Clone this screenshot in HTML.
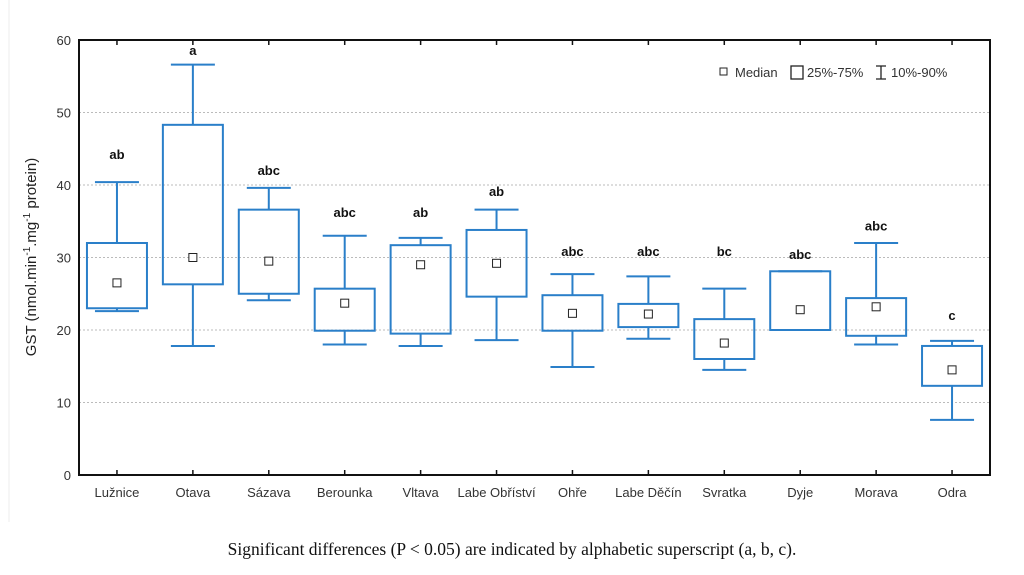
<!DOCTYPE html>
<html><head><meta charset="utf-8"><style>
body{margin:0;background:#fff;width:1024px;height:575px;overflow:hidden}
svg{display:block}
</style></head><body>
<svg id="c" width="1024" height="575" xmlns="http://www.w3.org/2000/svg">
<line x1="9" y1="0" x2="9" y2="522" stroke="#eee" stroke-width="1"/>
<g id="grid"></g>
<g id="axes"></g>
<g id="marks"></g>
<text x="36" y="257" transform="rotate(-90 36 257)" text-anchor="middle" font-family="Liberation Sans, sans-serif" font-size="15" fill="#222">GST (nmol.min<tspan dy="-6" font-size="10">-1</tspan><tspan dy="6">.mg</tspan><tspan dy="-6" font-size="10">-1</tspan><tspan dy="6"> protein)</tspan></text>
<g font-family="Liberation Sans, sans-serif" font-size="13" fill="#333">
<rect x="720" y="68" width="7" height="7" fill="none" stroke="#222"/>
<text x="735" y="77">Median</text>
<rect x="791" y="66" width="12" height="13" fill="none" stroke="#222" stroke-width="1.3"/>
<text x="807" y="77">25%-75%</text>
<path d="M876 66h10M881 66v13M876 79h10" stroke="#222" stroke-width="1.3" fill="none"/>
<text x="891" y="77">10%-90%</text>
</g>
<text x="512" y="555" text-anchor="middle" font-family="Liberation Serif, serif" font-size="17.5" fill="#111">Significant differences (P &lt; 0.05) are indicated by alphabetic superscript (a, b, c).</text>
</svg>
<script>
const categories=["Lužnice","Otava","Sázava","Berounka","Vltava","Labe Obříství","Ohře","Labe Děčín","Svratka","Dyje","Morava","Odra"];
const p90=[40.4,56.6,39.6,33,32.7,36.6,27.7,27.4,25.7,28.1,32,18.5];
const q75=[32,48.3,36.6,25.7,31.7,33.8,24.8,23.6,21.5,28.1,24.4,17.8];
const medians=[26.5,30,29.5,23.7,29,29.2,22.3,22.2,18.2,22.8,23.2,14.5];
const q25=[23,26.3,25,19.9,19.5,24.6,19.9,20.4,16,20,19.2,12.3];
const p10=[22.6,17.8,24.1,18,17.8,18.6,14.9,18.8,14.5,20,18,7.6];
const letters=["ab","a","abc","abc","ab","ab","abc","abc","bc","abc","abc","c"];
const letterLevel=[43.6,57.9,41.4,35.6,35.6,38.5,30.2,30.2,30.2,29.8,33.7,21.4];
const yTicks=[0,10,20,30,40,50,60];
const L=79,R=990,T=40,B=475,ymax=60;
const step=(R-L)/categories.length;
const X=i=>L+step*(i+0.5);
const Y=v=>B-(v/ymax)*(B-T);
const NS="http://www.w3.org/2000/svg";
function mk(parent,tag,attrs,txt){const e=document.createElementNS(NS,tag);for(const k in attrs)e.setAttribute(k,attrs[k]);if(txt!==undefined)e.textContent=txt;document.getElementById(parent).appendChild(e);return e;}
const F="Liberation Sans, sans-serif";
yTicks.forEach(v=>{
  if(v>0&&v<ymax){const g=mk("grid","line",{x1:L,x2:R,y1:Y(v),y2:Y(v),stroke:"#bbb","stroke-dasharray":"2,2","stroke-width":1});
  
  }
  const t=mk("axes","text",{x:L-8,y:Y(v)+5,"text-anchor":"end","font-family":F,"font-size":13,fill:"#333"},v);
  
  
});
const fr=mk("axes","rect",{x:L,y:T,width:R-L,height:B-T,fill:"none",stroke:"#111","stroke-width":2});


categories.forEach((c,i)=>{
  const x=X(i);
  const tk=mk("axes","path",{d:`M${x} ${B}v-5M${x} ${T}v5`,stroke:"#111","stroke-width":1.5});
  
  
  const t=mk("axes","text",{x:x,y:B+22,"text-anchor":"middle","font-family":F,"font-size":13,fill:"#333"},c);
  
  
  const col="#2a7fc9";
  const w=mk("marks","path",{d:`M${x-22} ${Y(p90[i])}h44M${x} ${Y(p90[i])}V${Y(q75[i])}M${x} ${Y(q25[i])}V${Y(p10[i])}M${x-22} ${Y(p10[i])}h44`,stroke:col,"stroke-width":2,fill:"none"});
  
  
  const b=mk("marks","rect",{x:x-30,y:Y(q75[i]),width:60,height:Y(q25[i])-Y(q75[i]),fill:"none",stroke:col,"stroke-width":2});
  
  
  const m=mk("marks","rect",{x:x-4,y:Y(medians[i])-4,width:8,height:8,fill:"#fff",stroke:"#222","stroke-width":1});
  
  
  const l=mk("marks","text",{x:x,y:Y(letterLevel[i]),"text-anchor":"middle","font-family":F,"font-size":13,"font-weight":"bold",fill:"#111"},letters[i]);
  
  
});
</script>
</body></html>
